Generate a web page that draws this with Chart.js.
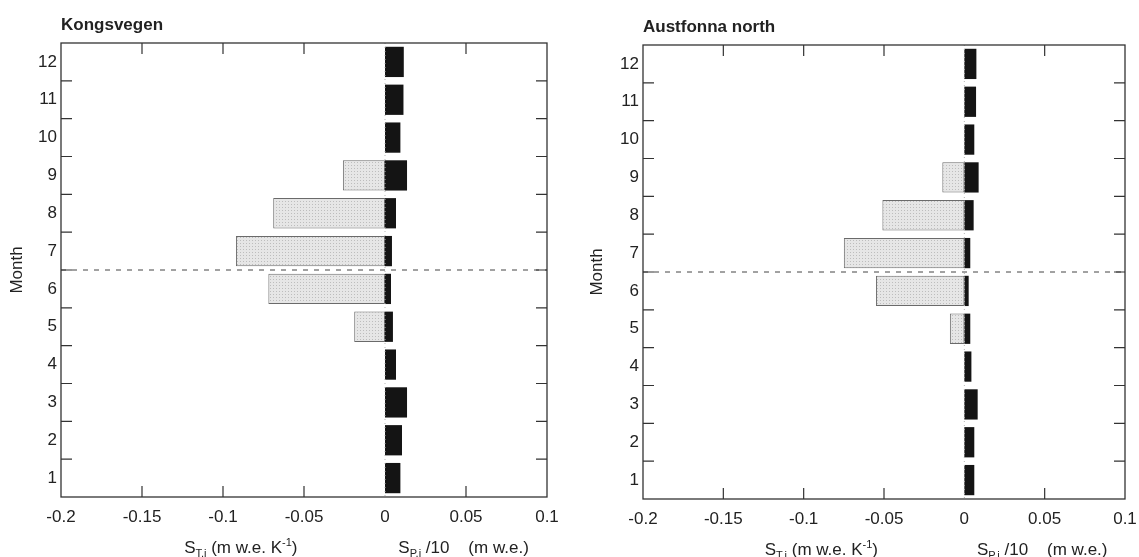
<!DOCTYPE html>
<html>
<head>
<meta charset="utf-8">
<script src="https://cdn.jsdelivr.net/npm/chart.js@4"></script>
<style>
  body { margin: 0; background: #fff; overflow: hidden; }
  #wrap { position: relative; width: 1139px; height: 557px; overflow: hidden; }
  .panel { position: absolute; top: 0; height: 557px; }
</style>
</head>
<body>
<div id="wrap">
  <div class="panel" style="left:0;width:569px"><canvas id="kongChart"></canvas></div>
  <div class="panel" style="left:580px;width:567px"><canvas id="austChart"></canvas></div>
</div>
<script>
// months 1..12
const months = ['1', '2', '3', '4', '5', '6', '7', '8', '9', '10', '11', '12'];
const xTicks = [-0.2, -0.15, -0.1, -0.05, 0, 0.05, 0.1];

const kongTemp = [null, null, null, null, -0.019, -0.072, -0.092, -0.069, -0.026, null, null, null];
const kongPrecip = [0.0095, 0.0105, 0.0136, 0.0068, 0.0049, 0.0037, 0.0043, 0.0068, 0.0136, 0.0095, 0.0114, 0.0116];

const austTemp = [null, null, null, null, -0.009, -0.055, -0.075, -0.051, -0.0137, null, null, null];
const austPrecip = [0.0062, 0.0062, 0.0083, 0.0044, 0.0037, 0.0027, 0.0037, 0.0058, 0.0089, 0.0062, 0.0073, 0.0075];

const FONT = '"Liberation Sans", Arial, Helvetica, sans-serif';
const INK = '#222';

// stippled grey fill like the printed figure
function stipple() {
    const c = document.createElement('canvas');
    c.width = 3; c.height = 3;
    const g = c.getContext('2d');
    g.fillStyle = '#e6e6e6';
    g.fillRect(0, 0, 3, 3);
    g.fillStyle = '#bdbdbd';
    g.fillRect(0, 0, 1, 1);
    return g.createPattern(c, 'repeat');
}

// frame, inward ticks, dashed line, titles
const decorPlugin = {
    id: 'decor',
    afterDraw(chart, args, opts) {
        const ctx = chart.ctx;
        const a = chart.chartArea;
        const xs = chart.scales.x;
        const ys = chart.scales.y;
        ctx.save();

        // zero line (faint dots)
        const x0 = xs.getPixelForValue(0);
        ctx.strokeStyle = '#b5b5b5';
        ctx.lineWidth = 1;
        ctx.setLineDash([1, 3]);
        ctx.beginPath();
        ctx.moveTo(x0, a.top);
        ctx.lineTo(x0, a.bottom);
        ctx.stroke();

        // dashed line between June and July
        const yMid = (ys.getPixelForValue(5) + ys.getPixelForValue(6)) / 2;
        ctx.strokeStyle = '#444';
        ctx.setLineDash([5, 6]);
        ctx.beginPath();
        ctx.moveTo(a.left, yMid);
        ctx.lineTo(a.right, yMid);
        ctx.stroke();
        ctx.setLineDash([]);

        // frame
        ctx.strokeStyle = '#333';
        ctx.lineWidth = 1.3;
        ctx.strokeRect(a.left, a.top, a.right - a.left, a.bottom - a.top);

        // inward ticks
        const len = 11;
        ctx.lineWidth = 1.2;
        ctx.beginPath();
        xTicks.forEach(v => {
            if (v === xs.min || v === xs.max || v === 0) return;
            const px = xs.getPixelForValue(v);
            ctx.moveTo(px, a.bottom); ctx.lineTo(px, a.bottom - len);
            ctx.moveTo(px, a.top); ctx.lineTo(px, a.top + len);
        });
        for (let i = 0; i < months.length - 1; i++) {
            const py = (ys.getPixelForValue(i) + ys.getPixelForValue(i + 1)) / 2;
            ctx.moveTo(a.left, py); ctx.lineTo(a.left + len, py);
            ctx.moveTo(a.right, py); ctx.lineTo(a.right - len, py);
        }
        ctx.stroke();

        // panel title
        ctx.fillStyle = INK;
        ctx.font = 'bold 17px ' + FONT;
        ctx.textBaseline = 'alphabetic';
        ctx.textAlign = 'left';
        ctx.fillText(opts.title, a.left, a.top - 13);

        // x axis labels with sub/superscripts
        function drawParts(parts, cx, base) {
            let w = 0;
            parts.forEach(p => { ctx.font = p.size + 'px ' + FONT; w += ctx.measureText(p.t).width; });
            let x = cx - w / 2;
            parts.forEach(p => {
                ctx.font = p.size + 'px ' + FONT;
                ctx.fillText(p.t, x, base + (p.dy || 0));
                x += ctx.measureText(p.t).width;
            });
        }
        const base = a.bottom + 56;
        drawParts([
            { t: 'S', size: 17 },
            { t: 'T,i', size: 11, dy: 4 },
            { t: ' (m w.e. K', size: 17 },
            { t: '-1', size: 11, dy: -7 },
            { t: ')', size: 17 }
        ], xs.getPixelForValue(-0.089), base);
        drawParts([
            { t: 'S', size: 17 },
            { t: 'P,i', size: 11, dy: 4 },
            { t: ' /10    (m w.e.)', size: 17 }
        ], xs.getPixelForValue(0.0485), base);

        ctx.restore();
    }
};

function makeChart(id, title, temp, precip, pad, yWidth, xHeight) {
    const ctx = document.getElementById(id).getContext('2d');
    return new Chart(ctx, {
        type: 'bar',
        data: {
            labels: months,
            datasets: [
                {
                    label: 'S_T',
                    data: temp,
                    backgroundColor: stipple(),
                    borderColor: '#6a6a6a',
                    borderWidth: 1,
                    borderSkipped: false,
                    grouped: false,
                    categoryPercentage: 1,
                    barPercentage: 0.8
                },
                {
                    label: 'S_P/10',
                    data: precip,
                    backgroundColor: '#141414',
                    borderWidth: 0,
                    grouped: false,
                    categoryPercentage: 1,
                    barPercentage: 0.8
                }
            ]
        },
        options: {
            indexAxis: 'y',
            responsive: true,
            maintainAspectRatio: false,
            animation: false,
            layout: {
                padding: pad
            },
            plugins: {
                legend: { display: false },
                tooltip: { enabled: false },
                decor: { title: title }
            },
            scales: {
                x: {
                    type: 'linear',
                    min: -0.2,
                    max: 0.1,
                    afterBuildTicks(scale) {
                        scale.ticks = xTicks.map(v => ({ value: v }));
                    },
                    afterFit(scale) { scale.height = xHeight; },
                    grid: { display: false, drawTicks: false },
                    border: { display: false },
                    ticks: {
                        padding: 10,
                        color: INK,
                        maxRotation: 0,
                        autoSkip: false,
                        font: { family: FONT, size: 17 },
                        callback: v => String(Number(v.toFixed(2)))
                    }
                },
                y: {
                    type: 'category',
                    reverse: true,
                    afterFit(scale) { scale.width = yWidth; },
                    grid: { display: false, drawTicks: false },
                    border: { display: false },
                    ticks: {
                        padding: 4,
                        color: INK,
                        font: { family: FONT, size: 17 }
                    },
                    title: {
                        display: true,
                        text: 'Month',
                        color: INK,
                        font: { family: FONT, size: 17 },
                        padding: { top: 7, bottom: 0 }
                    }
                }
            }
        },
        plugins: [decorPlugin]
    });
}

document.addEventListener('DOMContentLoaded', () => {
    makeChart('kongChart', 'Kongsvegen', kongTemp, kongPrecip,
        { top: 43, right: 22, left: 0, bottom: 0 }, 61, 60);
    makeChart('austChart', 'Austfonna north', austTemp, austPrecip,
        { top: 45, right: 22, left: 0, bottom: 0 }, 63, 58);
});
</script>
</body>
</html>
